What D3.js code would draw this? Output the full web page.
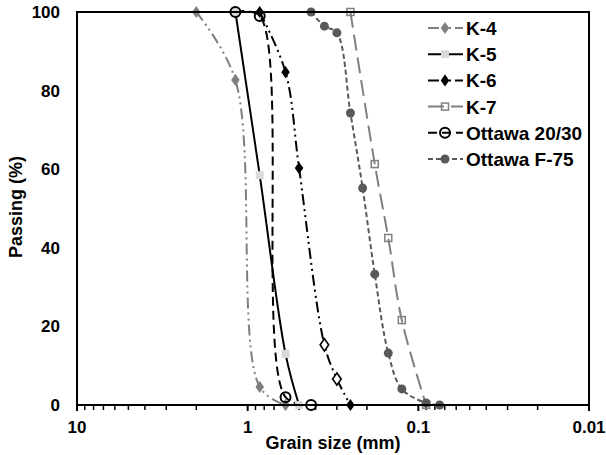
<!DOCTYPE html>
<html>
<head>
<meta charset="utf-8">
<script src="https://cdn.jsdelivr.net/npm/d3@7"></script>
<style>
  body { margin: 0; background: #fff; }
  text { font-family: "Liberation Sans", Arial, sans-serif; font-weight: bold; }
</style>
</head>
<body>
<div class="chart"></div>
<script>
// sieve sizes (mm) and % passing
var k4Size = [2.0, 1.18, 0.85, 0.6];
var k4Pass = [100, 82.7, 4.6, 0];
var k5Size = [1.18, 0.85, 0.6, 0.5];
var k5Pass = [100, 58.5, 13, 0];
var k6Size = [0.85, 0.6, 0.5, 0.355, 0.3, 0.25];
var k6Pass = [100, 84.7, 60.3, 15.3, 6.6, 0];
var k7Size = [0.25, 0.18, 0.15, 0.125, 0.09];
var k7Pass = [100, 61.3, 42.5, 21.6, 0];
var o2030Size = [1.18, 0.85, 0.6, 0.425];
var o2030Pass = [100, 99, 2, 0];
var f75Size = [0.425, 0.355, 0.3, 0.25, 0.212, 0.18, 0.15, 0.125, 0.09, 0.075];
var f75Pass = [100, 96.4, 94.7, 74.3, 55.2, 33.3, 13.2, 4.1, 0.5, 0];

var names = ['K-4', 'K-5', 'K-6', 'K-7', 'Ottawa 20/30', 'Ottawa F-75'];
var xTicks = [10, 1, 0.1, 0.01];
var yTicks = [0, 20, 40, 60, 80, 100];

var width = 606, height = 455;
var plot = { left: 77, right: 589, top: 12, bottom: 405 };

var svg = d3.select('.chart')
  .append('svg')
  .attr('width', width)
  .attr('height', height);

var xScale = d3.scaleLog()
  .domain([10, 0.01])
  .range([plot.left, plot.right]);

var yScale = d3.scaleLinear()
  .domain([0, 100])
  .range([plot.bottom, plot.top]);

var zip = (s, p) => s.map((d, i) => ({ size: d, pass: p[i] }));

var series = [
  { name: names[0], values: zip(k4Size, k4Pass), stroke: '#7f7f7f', dash: '11,4,2,4,2,4', shape: 'diamond', fill: '#7f7f7f' },
  { name: names[1], values: zip(k5Size, k5Pass), stroke: '#000', dash: null, shape: 'square', fill: '#d9d9d9' },
  { name: names[2], values: zip(k6Size, k6Pass), stroke: '#000', dash: '11,4,2,4,2,4', shape: 'diamond', fill: '#000', hollow: [3, 4] },
  { name: names[3], values: zip(k7Size, k7Pass), stroke: '#808080', dash: '16,7', shape: 'open-square', fill: 'none', mstroke: '#808080' },
  { name: names[4], values: zip(o2030Size, o2030Pass), stroke: '#000', dash: '9,5', shape: 'circle', fill: 'none', mstroke: '#000' },
  { name: names[5], values: zip(f75Size, f75Pass), stroke: '#595959', dash: '5,3', shape: 'dot', fill: '#595959' }
];

// minor ticks on the log axis
var minor = [];
[1, 0.1, 0.01].forEach(dec => {
  for (var k = 2; k <= 9; k++) minor.push(dec * k);
});

svg.append('g')
  .selectAll('line')
  .data(minor)
  .enter()
  .append('line')
  .attr('x1', d => xScale(d))
  .attr('x2', d => xScale(d))
  .attr('y1', plot.bottom)
  .attr('y2', plot.bottom + 5)
  .attr('stroke', '#000')
  .attr('stroke-width', 1.5);

svg.append('g')
  .selectAll('line')
  .data(xTicks)
  .enter()
  .append('line')
  .attr('x1', d => xScale(d))
  .attr('x2', d => xScale(d))
  .attr('y1', plot.bottom)
  .attr('y2', plot.bottom + 6)
  .attr('stroke', '#000')
  .attr('stroke-width', 2);

svg.append('g')
  .selectAll('text')
  .data(xTicks)
  .enter()
  .append('text')
  .attr('x', d => xScale(d))
  .attr('y', 433)
  .attr('text-anchor', 'middle')
  .attr('font-size', 17)
  .text(d => d3.format('~g')(d));

svg.append('g')
  .selectAll('text')
  .data(yTicks)
  .enter()
  .append('text')
  .attr('x', 60)
  .attr('y', d => yScale(d) + 6)
  .attr('text-anchor', 'end')
  .attr('font-size', 17)
  .text(d => d);

svg.append('text')
  .attr('x', 333)
  .attr('y', 449)
  .attr('text-anchor', 'middle')
  .attr('font-size', 18)
  .text('Grain size (mm)');

svg.append('text')
  .attr('transform', 'translate(22,207) rotate(-90)')
  .attr('text-anchor', 'middle')
  .attr('font-size', 18)
  .text('Passing (%)');

var line = d3.line()
  .x(d => xScale(d.size))
  .y(d => yScale(d.pass))
  .curve(d3.curveCatmullRom.alpha(0.5));

svg.selectAll('.line')
  .data(series)
  .enter()
  .append('path')
  .attr('class', 'line')
  .attr('d', d => line(d.values))
  .attr('fill', 'none')
  .attr('stroke', d => d.stroke)
  .attr('stroke-width', 2)
  .attr('stroke-dasharray', d => d.dash);

function drawMarker(g, s, x, y, hollow) {
  if (s.shape === 'diamond') {
    g.append('path')
      .attr('d', d3.symbol(d3.symbolDiamond, 48)())
      .attr('transform', `translate(${x},${y}) scale(1.15,0.95)`)
      .attr('fill', hollow ? '#fff' : s.fill)
      .attr('stroke', hollow ? '#000' : 'none')
      .attr('stroke-width', 1.5);
  } else if (s.shape === 'square') {
    g.append('rect')
      .attr('x', x - 4).attr('y', y - 4)
      .attr('width', 8).attr('height', 8)
      .attr('fill', s.fill);
  } else if (s.shape === 'open-square') {
    g.append('rect')
      .attr('x', x - 3.5).attr('y', y - 3.5)
      .attr('width', 7).attr('height', 7)
      .attr('fill', 'none')
      .attr('stroke', s.mstroke)
      .attr('stroke-width', 1.5);
  } else if (s.shape === 'circle') {
    g.append('circle')
      .attr('cx', x).attr('cy', y).attr('r', 5)
      .attr('fill', 'none')
      .attr('stroke', s.mstroke)
      .attr('stroke-width', 2);
  } else {
    g.append('circle')
      .attr('cx', x).attr('cy', y).attr('r', 4.5)
      .attr('fill', s.fill);
  }
}

series.forEach(s => {
  var g = svg.append('g');
  s.values.forEach((d, i) => {
    drawMarker(g, s, xScale(d.size), yScale(d.pass), s.hollow && s.hollow.includes(i));
  });
});

// plot frame
svg.append('rect')
  .attr('x', plot.left)
  .attr('y', plot.top)
  .attr('width', plot.right - plot.left)
  .attr('height', plot.bottom - plot.top)
  .attr('fill', 'none')
  .attr('stroke', '#000')
  .attr('stroke-width', 2);

// legend
var legend = svg.append('g');
series.forEach((s, i) => {
  var y = 28 + i * 26.2;
  legend.append('line')
    .attr('x1', 428).attr('x2', 463)
    .attr('y1', y).attr('y2', y)
    .attr('stroke', s.stroke)
    .attr('stroke-width', 2)
    .attr('stroke-dasharray', s.dash);
  drawMarker(legend, s, 445, y, false);
  legend.append('text')
    .attr('x', 466)
    .attr('y', y + 7)
    .attr('font-size', 19)
    .text(s.name);
});
</script>
</body>
</html>
